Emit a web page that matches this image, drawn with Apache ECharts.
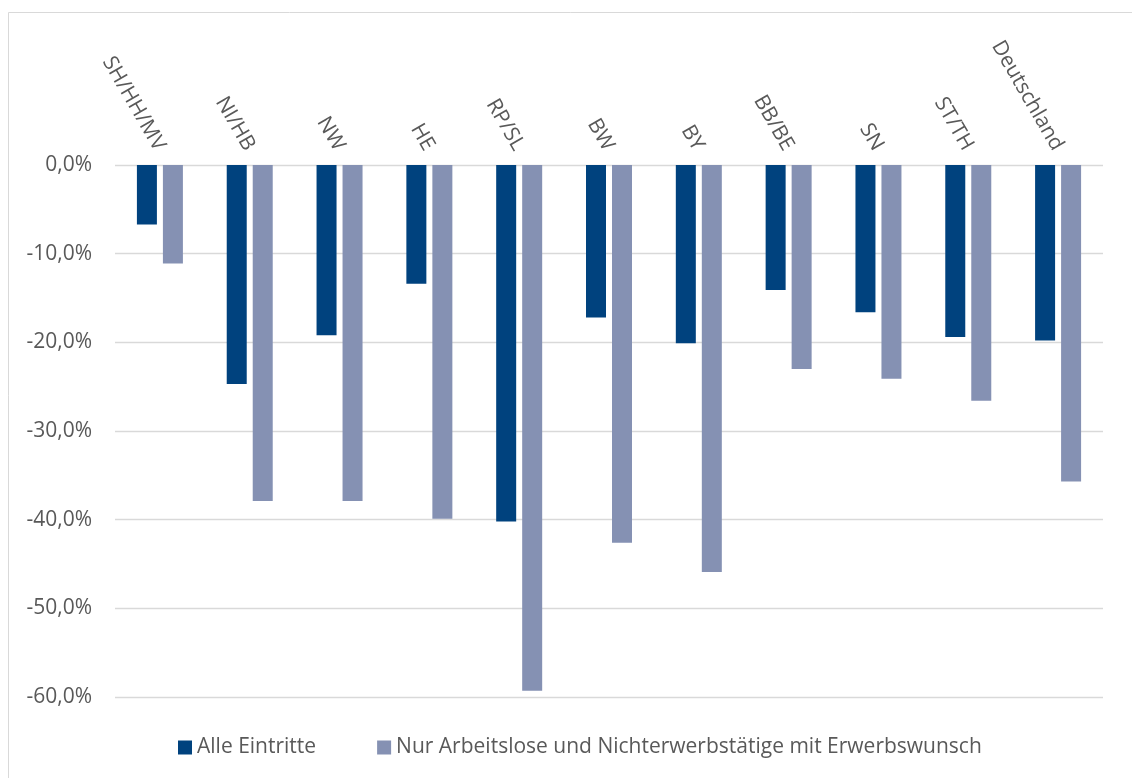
<!DOCTYPE html>
<html>
<head>
<meta charset="utf-8">
<script src="https://cdn.jsdelivr.net/npm/echarts@6/dist/echarts.min.js"></script>
<style>
  html, body { margin: 0; padding: 0; background: #fff; }
  #chart { width: 1132px; height: 778px; }
</style>
</head>
<body>
<div id="chart"></div>
<script>
// Regions (Bundesländer groups) and national total
const categories = ['SH/HH/MV', 'NI/HB', 'NW', 'HE', 'RP/SL', 'BW', 'BY', 'BB/BE', 'SN', 'ST/TH', 'Deutschland'];

// Change in percent
const alleEintritte = [-6.7, -24.7, -19.2, -13.4, -40.2, -17.2, -20.1, -14.1, -16.6, -19.4, -19.8];
const nurArbeitslose = [-11.1, -37.9, -37.9, -39.9, -59.3, -42.6, -45.9, -23.0, -24.1, -26.6, -35.7];

const seriesNames = ['Alle Eintritte', 'Nur Arbeitslose und Nichterwerbstätige mit Erwerbswunsch'];

const FONT = '"Open Sans", "Noto Sans", sans-serif';
const TEXT = '#595959';
const GRID = '#d9d9d9';
const FS = 21;

const fmt = v => v.toFixed(1).replace('.', ',') + '%';

const chart = echarts.init(document.getElementById('chart'), null, { renderer: 'canvas' });

chart.setOption({
  animation: false,
  backgroundColor: '#fff',
  textStyle: { fontFamily: FONT },
  graphic: [{
    type: 'rect',
    silent: true,
    shape: { x: 8.5, y: 12.5, width: 1300, height: 900 },
    style: { fill: 'none', stroke: GRID, lineWidth: 1 }
  }],
  grid: { left: 115, right: 29, top: 165, bottom: 81, containLabel: false },
  legend: {
    left: 178,
    top: 737,
    padding: 0,
    itemWidth: 14,
    itemHeight: 14,
    itemGap: 61,
    icon: 'rect',
    textStyle: { color: TEXT, fontSize: FS, fontFamily: FONT },
    data: seriesNames
  },
  xAxis: {
    type: 'category',
    position: 'top',
    data: categories,
    axisLine: { show: false },
    axisTick: { show: false },
    axisLabel: {
      rotate: -60,
      margin: 16,
      interval: 0,
      color: TEXT,
      fontSize: FS,
      fontFamily: FONT
    }
  },
  yAxis: {
    type: 'value',
    min: -60,
    max: 0,
    interval: 10,
    axisLine: { show: false },
    axisTick: { show: false },
    splitLine: { lineStyle: { color: GRID, width: 1.3 } },
    axisLabel: {
      formatter: fmt,
      margin: 23,
      color: TEXT,
      fontSize: FS,
      fontFamily: FONT
    }
  },
  series: [
    {
      name: seriesNames[0],
      type: 'bar',
      data: alleEintritte,
      barWidth: 20,
      barGap: '30%',
      itemStyle: { color: '#00427e' }
    },
    {
      name: seriesNames[1],
      type: 'bar',
      data: nurArbeitslose,
      barWidth: 20,
      itemStyle: { color: '#8591b3' }
    }
  ]
});
</script>
</body>
</html>
